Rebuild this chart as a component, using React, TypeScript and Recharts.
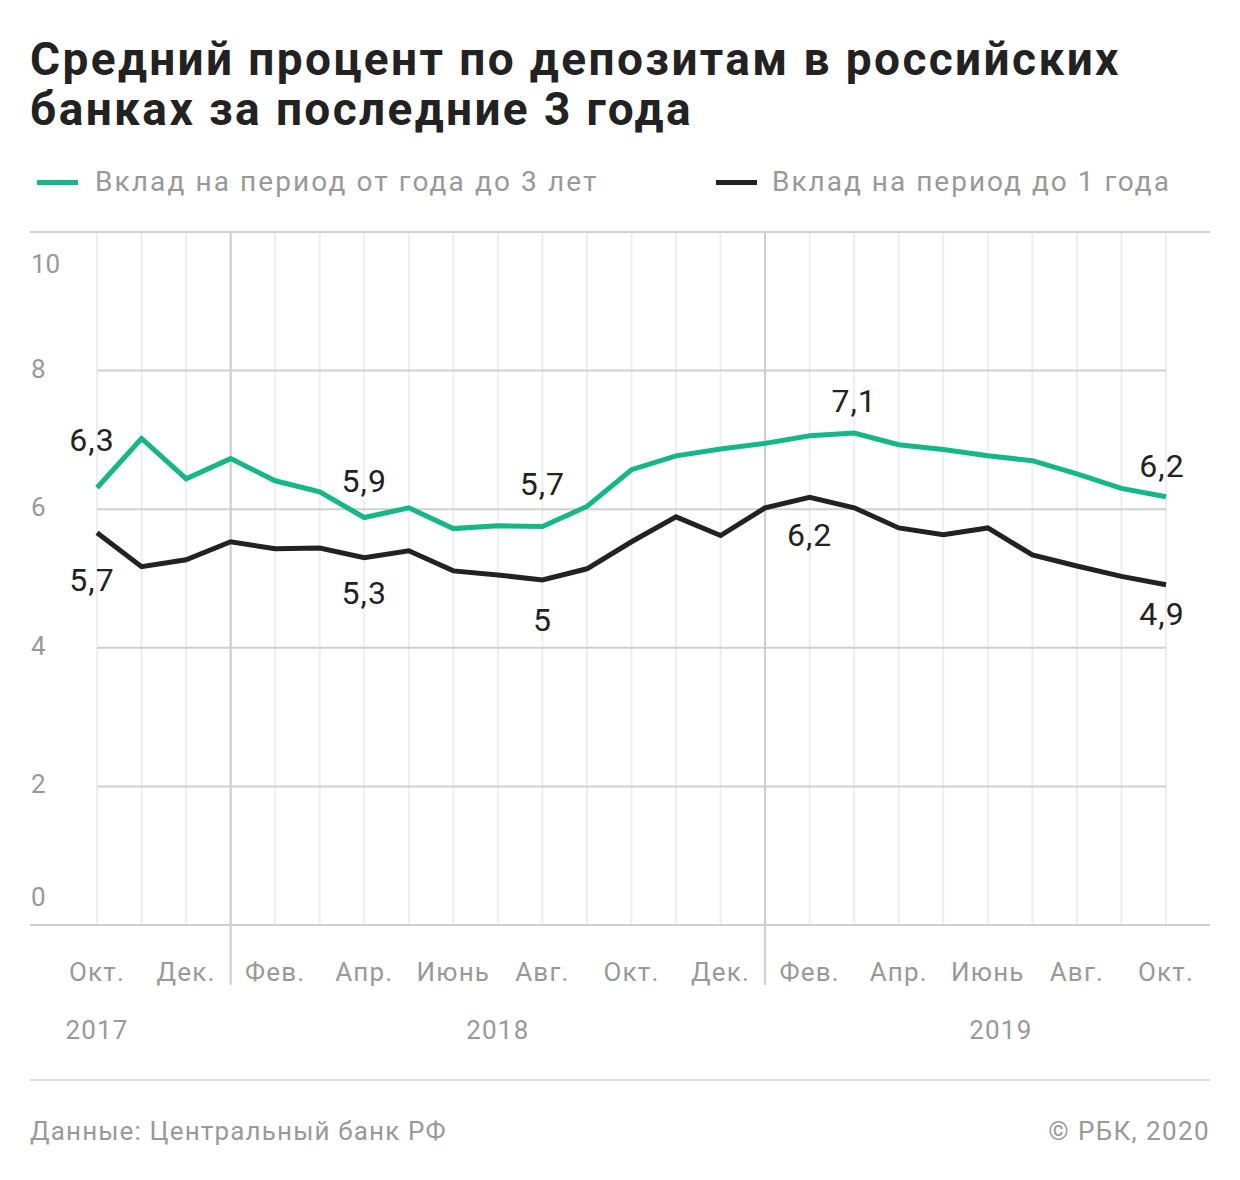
import { LineChart, Line, XAxis, YAxis, CartesianGrid, ReferenceLine, LabelList } from 'recharts'

const months = [
  'Окт.', 'Нояб.', 'Дек.',
  'Янв.', 'Фев.', 'Март', 'Апр.', 'Май', 'Июнь', 'Июль', 'Авг.', 'Сент.', 'Окт.', 'Нояб.', 'Дек.',
  'Янв.', 'Фев.', 'Март', 'Апр.', 'Май', 'Июнь', 'Июль', 'Авг.', 'Сент.', 'Окт.',
]
const longTerm = [
  6.31, 7.02, 6.44, 6.73, 6.41, 6.25, 5.88, 6.02, 5.72, 5.76, 5.75, 6.04, 6.57,
  6.77, 6.87, 6.95, 7.06, 7.1, 6.93, 6.86, 6.77, 6.7, 6.51, 6.3, 6.18,
]
const shortTerm = [
  5.66, 5.17, 5.27, 5.53, 5.43, 5.44, 5.3, 5.4, 5.11, 5.05, 4.98, 5.14, 5.53,
  5.89, 5.62, 6.02, 6.17, 6.02, 5.73, 5.63, 5.73, 5.34, 5.18, 5.03, 4.91,
]
const yTicks = [0, 2, 4, 6, 8, 10]
const yearStarts = [3, 15]
const yearLabels = [
  { index: 0, label: '2017', dx: 0 },
  { index: 9, label: '2018', dx: 0 },
  { index: 20, label: '2019', dx: 13 },
]
// labelled points: index -> offset of the text from the point
const longLabels: Record<number, { text: string; dx: number; dy: number }> = {
  0: { text: '6,3', dx: -5, dy: -48 },
  6: { text: '5,9', dx: 0, dy: -37 },
  10: { text: '5,7', dx: 0, dy: -43 },
  17: { text: '7,1', dx: 0, dy: -32 },
  24: { text: '6,2', dx: -4, dy: -31 },
}
const shortLabels: Record<number, { text: string; dx: number; dy: number }> = {
  0: { text: '5,7', dx: -5, dy: 47 },
  6: { text: '5,3', dx: 0, dy: 35 },
  10: { text: '5', dx: 0, dy: 40 },
  16: { text: '6,2', dx: 0, dy: 38 },
  24: { text: '4,9', dx: -4, dy: 29 },
}

const data = months.map((m, i) => ({ i, month: m, long: longTerm[i], short: shortTerm[i] }))

const GREEN = '#13b886'
const DARK = '#222222'
const GREY = '#999999'
const FONT = 'Roboto, "Noto Sans", sans-serif'

const makeLabel = (table: Record<number, { text: string; dx: number; dy: number }>) => (props: any) => {
  const { x, y, index } = props
  const l = table[index]
  if (!l) return null
  return (
    <text x={x + l.dx} y={y + l.dy} textAnchor="middle" dominantBaseline="central" fontSize={32} letterSpacing={1} fill={DARK} fontFamily={FONT}>
      {l.text}
    </text>
  )
}

const XTick = (props: any) => {
  const { x, y, payload } = props
  const idx = payload.index
  const year = yearLabels.find((d) => d.index === idx)
  return (
    <g>
      {yearStarts.includes(idx) && <line x1={x} x2={x} y1={y - 10} y2={y + 52} stroke="#cccccc" strokeWidth={2} />}
      {idx % 2 === 0 && (
        <text x={x} y={y + 39} textAnchor="middle" dominantBaseline="central" fontSize={26} letterSpacing={1.2} fill={GREY} fontFamily={FONT}>
          {months[idx]}
        </text>
      )}
      {year && (
        <text x={x + year.dx} y={y + 97} textAnchor="middle" dominantBaseline="central" fontSize={26} letterSpacing={1.2} fill={GREY} fontFamily={FONT}>
          {year.label}
        </text>
      )}
    </g>
  )
}

const YTick = (props: any) => {
  const { y, payload } = props
  const v = payload.value
  const shift = v === 10 ? 32 : v === 0 ? -28 : -2
  return (
    <text x={31} y={y + shift} textAnchor="start" dominantBaseline="central" fontSize={26} fill={GREY} fontFamily={FONT}>
      {v}
    </text>
  )
}

export default function App() {
  return (
    <div style={{ position: 'absolute', left: 0, top: 0, width: 1240, height: 1180, background: '#fff', fontFamily: FONT }}>
      <div style={{ position: 'absolute', left: 30, top: 34, fontSize: 46, fontWeight: 700, lineHeight: '50px', color: DARK, letterSpacing: 2.4 }}>
        Средний процент по депозитам в российских
        <br />
        банках за последние 3 года
      </div>

      <div style={{ position: 'absolute', left: 37, top: 180, width: 41, height: 5, background: GREEN }} />
      <div style={{ position: 'absolute', left: 95, top: 164, fontSize: 28, color: GREY, lineHeight: '36px', letterSpacing: 2.1 }}>
        Вклад на период от года до 3 лет
      </div>
      <div style={{ position: 'absolute', left: 716, top: 180, width: 41, height: 5, background: DARK }} />
      <div style={{ position: 'absolute', left: 772, top: 164, fontSize: 28, color: GREY, lineHeight: '36px', letterSpacing: 2 }}>
        Вклад на период до 1 года
      </div>

      <div style={{ position: 'absolute', left: 0, top: 0 }}>
        <LineChart width={1240} height={1180} data={data} margin={{ top: 232, right: 74, bottom: 0, left: 30 }}>
          <CartesianGrid stroke="#eeeeee" strokeWidth={2} horizontal={false} />
          <CartesianGrid stroke="#d0d0d0" strokeWidth={2} vertical={false} horizontalValues={[2, 4, 6, 8]} />
          <XAxis
            dataKey="i"
            type="category"
            interval={0}
            axisLine={false}
            tickLine={false}
            tick={<XTick />}
            height={255}
          />
          <YAxis
            domain={[0, 10]}
            ticks={yTicks}
            width={67}
            axisLine={false}
            tickLine={false}
            tick={<YTick />}
          />
          {yearStarts.map((s) => (
            <ReferenceLine key={s} x={s} stroke="#cccccc" strokeWidth={2} />
          ))}
          <Line type="linear" dataKey="short" stroke={DARK} strokeWidth={5} dot={false} isAnimationActive={false}>
            <LabelList dataKey="short" content={makeLabel(shortLabels)} />
          </Line>
          <Line type="linear" dataKey="long" stroke={GREEN} strokeWidth={5} dot={false} isAnimationActive={false}>
            <LabelList dataKey="long" content={makeLabel(longLabels)} />
          </Line>
        </LineChart>
      </div>

      <div style={{ position: 'absolute', left: 30, top: 231, width: 1180, height: 2, background: '#d0d0d0' }} />
      <div style={{ position: 'absolute', left: 30, top: 924, width: 1180, height: 2, background: '#d0d0d0' }} />
      <div style={{ position: 'absolute', left: 30, top: 1079, width: 1180, height: 2, background: '#dddddd' }} />

      <div style={{ position: 'absolute', left: 30, top: 1114, fontSize: 26, color: GREY, lineHeight: '34px', letterSpacing: 1.15 }}>
        Данные: Центральный банк РФ
      </div>
      <div style={{ position: 'absolute', right: 30, top: 1114, fontSize: 26, color: GREY, lineHeight: '34px', letterSpacing: 1.4 }}>
        © РБК, 2020
      </div>
    </div>
  )
}
